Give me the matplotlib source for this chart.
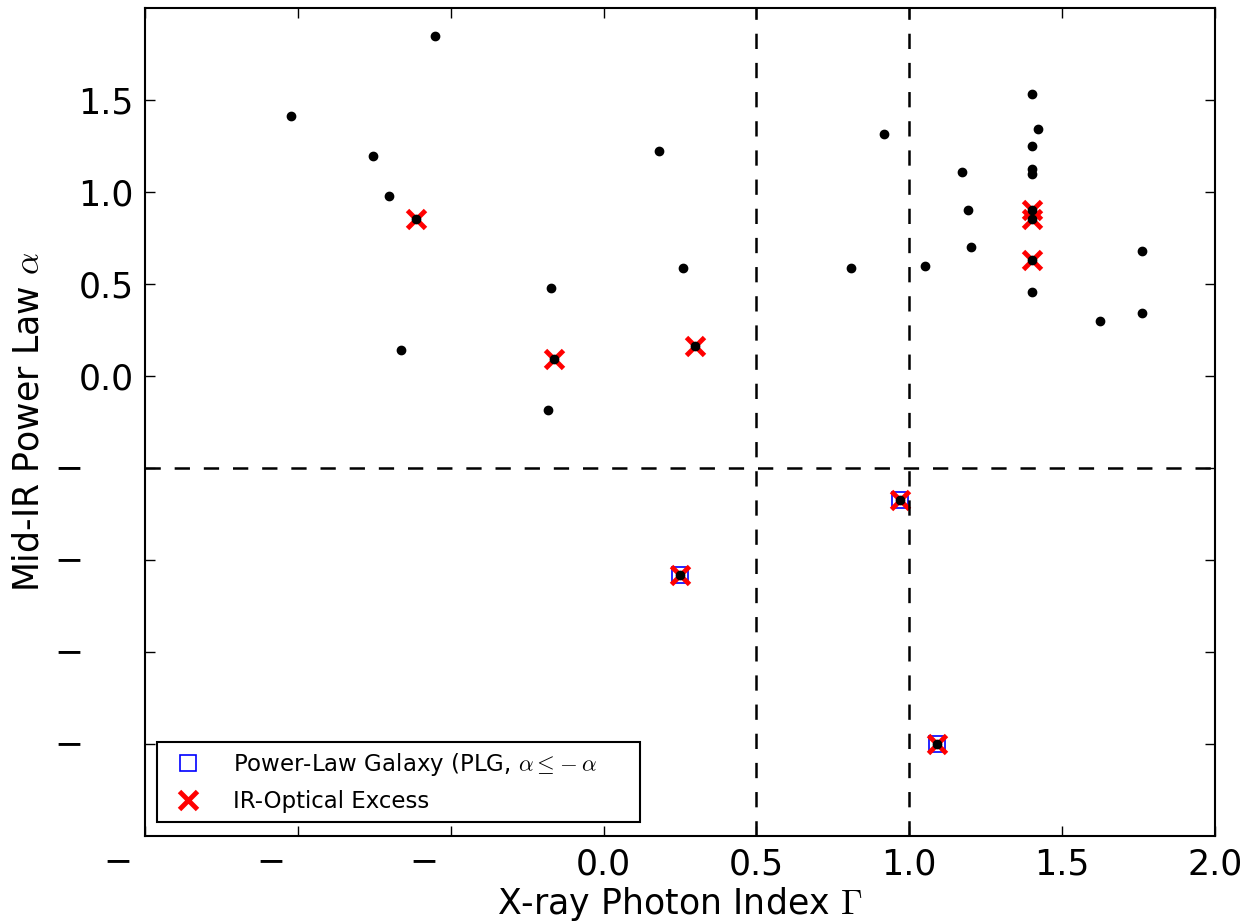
import matplotlib

matplotlib.use("Agg")
import matplotlib.pyplot as plt

# X-ray photon index vs mid-IR power-law slope for the full sample
gamma = [
    -1.022, -0.552, -0.753, -0.703, -0.612, -0.662, -0.171, -0.161, -0.181,
    0.180, 0.260, 0.300, 0.249, 0.808, 0.917, 1.051, 0.971, 1.171, 1.191,
    1.201, 1.091, 1.402, 1.422, 1.402, 1.402, 1.402, 1.402, 1.402, 1.402,
    1.402, 1.623, 1.762, 1.762,
]
alpha = [
    1.415, 1.849, 1.198, 0.976, 0.851, 0.141, 0.477, 0.094, -0.183,
    1.221, 0.589, 0.164, -1.079, 0.585, 1.317, 0.596, -0.672, 1.111, 0.900,
    0.701, -2.002, 1.530, 1.341, 1.250, 1.125, 1.099, 0.900, 0.855, 0.632,
    0.459, 0.298, 0.681, 0.341,
]

# power-law galaxies (alpha <= -0.5)
plg_gamma = [0.249, 0.971, 1.091]
plg_alpha = [-1.079, -0.672, -2.002]

# sources with an IR-optical excess
irx_gamma = [-0.612, -0.161, 0.300, 0.249, 0.971, 1.091, 1.402, 1.402, 1.402]
irx_alpha = [0.851, 0.094, 0.164, -1.079, -0.672, -2.002, 0.900, 0.855, 0.632]

x_ticks = [-1.5, -1.0, -0.5, 0.0, 0.5, 1.0, 1.5, 2.0]
y_ticks = [-2.0, -1.5, -1.0, -0.5, 0.0, 0.5, 1.0, 1.5]

FS = 25

plt.rcParams["mathtext.fontset"] = "cm"
plt.rcParams["lines.scale_dashes"] = False

fig = plt.figure(figsize=(12.56, 9.21), dpi=100)
ax = fig.add_axes([0.1154, 0.0923, 0.8520, 0.8990])

ax.plot(plg_gamma, plg_alpha, ls="none", marker="s", ms=12, mfc="none",
        mec="blue", mew=1.2,
        label=r"Power-Law Galaxy (PLG, $\alpha \leq\!-\alpha$")
ax.plot(irx_gamma, irx_alpha, ls="none", marker="x", ms=13, mec="red",
        mew=3.5, label="IR-Optical Excess")
ax.plot(gamma, alpha, ls="none", marker="o", ms=6, mfc="black", mec="black")

dash = dict(color="black", lw=1.8, dashes=(11, 10))
ax.axvline(0.5, **dash)
ax.axvline(1.0, **dash)
ax.axhline(-0.5, **dash)

ax.set_xlim(-1.5, 2.0)
ax.set_ylim(-2.5, 2.0)
ax.set_xticks(x_ticks)
ax.set_yticks(y_ticks)
ax.set_xticklabels(["" if v < 0 else f"{v:.1f}" for v in x_ticks])
ax.set_yticklabels(["" if v < 0 else f"{v:.1f}" for v in y_ticks])

# negative tick labels come out as a bare minus sign
for v in x_ticks:
    if v < 0:
        ax.annotate("\u2212", xy=(v, 0), xycoords=("data", "axes fraction"),
                    xytext=(-19.5, -18), textcoords="offset points",
                    ha="center", va="center", fontsize=FS)
for v in y_ticks:
    if v < 0:
        ax.annotate("\u2212", xy=(0, v), xycoords=("axes fraction", "data"),
                    xytext=(-54.5, 0), textcoords="offset points",
                    ha="center", va="center", fontsize=FS)

ax.tick_params(direction="in", length=7, width=1, labelsize=FS, pad=8,
               top=True, right=True)
for s in ax.spines.values():
    s.set_linewidth(1.5)

ax.set_xlabel(r"X-ray Photon Index $\Gamma$", fontsize=FS, labelpad=3)
ax.set_ylabel(r"Mid-IR Power Law $\alpha$", fontsize=FS, labelpad=24)

leg = ax.legend(loc="lower left", bbox_to_anchor=(0.0112, 0.0169, 0.4514, 0.0954),
                mode="expand", borderaxespad=0.0, fontsize=16.5, frameon=True,
                fancybox=False, framealpha=1.0, handlelength=1.9,
                handletextpad=1.0, borderpad=0.4, labelspacing=0.5, numpoints=1)
leg.get_frame().set_edgecolor("black")
leg.get_frame().set_linewidth(1.5)

fig.savefig("out.png", dpi=100)
